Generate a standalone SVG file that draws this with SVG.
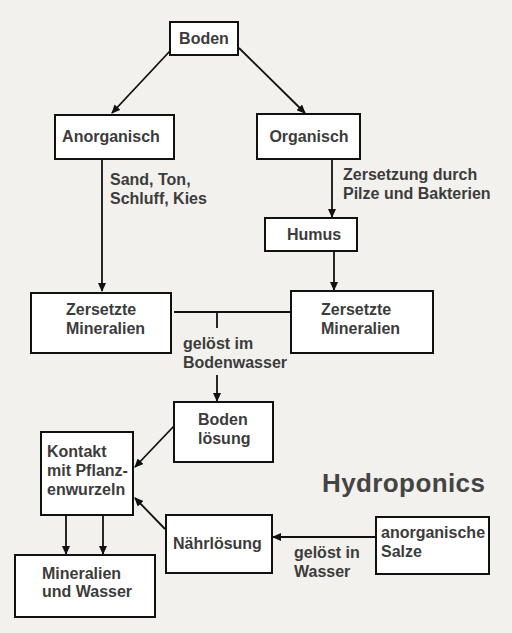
<svg xmlns="http://www.w3.org/2000/svg" width="512" height="633" viewBox="0 0 512 633">
<style>
.box{fill:#ffffff;stroke:#111111;stroke-width:2}
.t{font-family:"Liberation Sans",Arial,sans-serif;font-weight:bold;font-size:16px;fill:#3c3c3c}
.c{text-anchor:middle}
.ln{stroke:#111111;stroke-width:1.8;fill:none}
.ar{marker-end:url(#ah)}
</style>
<defs>
<marker id="ah" markerUnits="userSpaceOnUse" markerWidth="9" markerHeight="8" refX="8" refY="4" orient="auto">
<path d="M0,0 L9,4 L0,8 z" fill="#111111"/>
</marker>
</defs>
<rect width="512" height="633" fill="#f3f1ed"/>
<g id="connectors">
<line class="ln ar" x1="170" y1="51" x2="112" y2="113"/>
<line class="ln ar" x1="239" y1="48" x2="305" y2="113"/>
<line class="ln ar" x1="102" y1="160" x2="102" y2="291"/>
<line class="ln ar" x1="332" y1="159" x2="332" y2="217"/>
<line class="ln ar" x1="334" y1="251" x2="334" y2="290"/>
<line class="ln" x1="174" y1="312" x2="291" y2="312"/>
<line class="ln" x1="217" y1="312" x2="217" y2="328"/>
<line class="ln ar" x1="217" y1="375" x2="217" y2="401"/>
<line class="ln ar" x1="174" y1="426" x2="135" y2="467"/>
<line class="ln ar" x1="165" y1="529" x2="135" y2="498"/>
<line class="ln ar" x1="66" y1="516" x2="66" y2="554"/>
<line class="ln ar" x1="103" y1="516" x2="103" y2="554"/>
<line class="ln ar" x1="376" y1="537" x2="273" y2="537"/>
</g>
<g id="boden">
<rect class="box" x="170" y="22" width="68" height="33"/>
<text class="t c" x="204" y="44">Boden</text>
</g>
<g id="anorganisch">
<rect class="box" x="55" y="115" width="119" height="44"/>
<text class="t c" x="111" y="142">Anorganisch</text>
</g>
<g id="organisch">
<rect class="box" x="257" y="114" width="103" height="45"/>
<text class="t c" x="309" y="142">Organisch</text>
</g>
<g id="label-sand">
<text class="t" x="110" y="185">Sand, Ton,</text>
<text class="t" x="110" y="204">Schluff, Kies</text>
</g>
<g id="label-zersetzung">
<text class="t" x="343" y="180">Zersetzung durch</text>
<text class="t" x="343" y="199">Pilze und Bakterien</text>
</g>
<g id="humus">
<rect class="box" x="265" y="218" width="92" height="33"/>
<text class="t c" x="314" y="240">Humus</text>
</g>
<g id="zersetzte-links">
<rect class="box" x="31" y="293" width="140" height="60"/>
<text class="t" x="66" y="315">Zersetzte</text>
<text class="t" x="66" y="334">Mineralien</text>
</g>
<g id="zersetzte-rechts">
<rect class="box" x="291" y="291" width="142" height="62"/>
<text class="t" x="321" y="315">Zersetzte</text>
<text class="t" x="321" y="334">Mineralien</text>
</g>
<g id="label-geloest-bodenwasser">
<text class="t" x="183" y="349">gelöst im</text>
<text class="t" x="183" y="368">Bodenwasser</text>
</g>
<g id="bodenloesung">
<rect class="box" x="174" y="402" width="99" height="60"/>
<text class="t" x="198" y="425">Boden</text>
<text class="t" x="198" y="444">lösung</text>
</g>
<g id="kontakt">
<rect class="box" x="41" y="432" width="92" height="83"/>
<text class="t" x="47" y="457">Kontakt</text>
<text class="t" x="47" y="476">mit Pflanz-</text>
<text class="t" x="47" y="495">enwurzeln</text>
</g>
<g id="mineralien-wasser">
<rect class="box" x="15" y="555" width="140" height="62"/>
<text class="t" x="42" y="579">Mineralien</text>
<text class="t" x="42" y="597">und Wasser</text>
</g>
<g id="naehrloesung">
<rect class="box" x="166" y="515" width="106" height="58"/>
<text class="t" x="173" y="549">Nährlösung</text>
</g>
<g id="anorganische-salze">
<rect class="box" x="376" y="517" width="113" height="57"/>
<text class="t" x="381" y="538">anorganische</text>
<text class="t" x="381" y="557">Salze</text>
</g>
<g id="label-geloest-wasser">
<text class="t" x="294" y="558">gelöst in</text>
<text class="t" x="294" y="577">Wasser</text>
</g>
<g id="hydroponics">
<text x="322" y="492" style="font-family:'Liberation Sans',Arial,sans-serif;font-weight:bold;font-size:26px;fill:#444444;letter-spacing:0.4px">Hydroponics</text>
</g>
</svg>
